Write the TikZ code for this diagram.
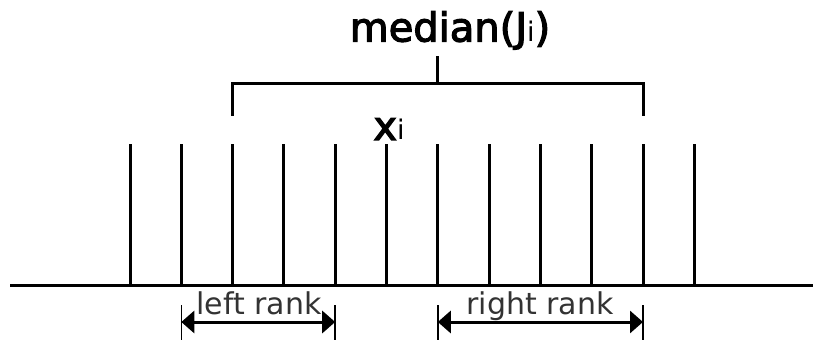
\documentclass[tikz,border=0pt]{standalone}
\usepackage{fontspec}
\setmainfont{DejaVu Sans}
\newfontfamily\semibfont[FakeBold=3]{DejaVu Sans}
\usetikzlibrary{arrows.meta}
\begin{document}
\begin{tikzpicture}[x=1pt,y=-1pt,
  thick line/.style={line width=3pt},
  rankarrow/.style={line width=3pt,{Triangle[length=13pt,width=22pt]}-{Triangle[length=13pt,width=22pt]}},
  endbar/.style={line width=1.6pt},
  ranklabel/.style={text=black!80,font=\fontsize{30}{30}\selectfont,inner sep=0pt,anchor=base}]
\useasboundingbox (0,0) rectangle (815,342);
% axis
\coordinate (axL) at (10,286);
\coordinate (axR) at (813,286);
\draw[thick line] (axL) -- (axR);
% ticks
\foreach \i in {0,...,11}{
  \coordinate (b\i) at ({130+51.3*\i},286);
  \coordinate (t\i) at ({130+51.3*\i},144);
  \draw[thick line] (b\i) -- (t\i);
}
% bracket
\coordinate (brL) at (232.6,116);
\coordinate (brLt) at (232.6,84);
\coordinate (brR) at (643,116);
\coordinate (brRt) at (643,84);
\coordinate (stemB) at (437.8,84);
\coordinate (stemT) at (437.8,56);
\draw[thick line] (brL) -- (brLt) -- (brRt) -- (brR);
\draw[thick line] (stemB) -- (stemT);
\node[inner sep=0pt,anchor=base] (med) at (450,41.5) {\semibfont\fontsize{40}{40}\selectfont median(J{\normalfont\fontsize{27}{27}\selectfont i})};
\node[inner sep=0pt,anchor=base] (xi) at (389,140) {\semibfont\fontsize{40}{40}\selectfont x{\normalfont\fontsize{27}{27}\selectfont i}};
% left rank
\coordinate (lA) at (181.3,322);
\coordinate (lB) at (335.2,322);
\draw[endbar] (181.3,305) -- (181.3,340);
\draw[endbar] (335.2,305) -- (335.2,340);
\draw[rankarrow] (lA) -- (lB);
\node[ranklabel] (lt) at (259,315) {left rank};
% right rank
\coordinate (rA) at (437.8,322);
\coordinate (rB) at (643,322);
\draw[endbar] (437.8,305) -- (437.8,340);
\draw[endbar] (643,305) -- (643,340);
\draw[rankarrow] (rA) -- (rB);
\node[ranklabel] (rt) at (540,315) {right rank};
\end{tikzpicture}
\end{document}
